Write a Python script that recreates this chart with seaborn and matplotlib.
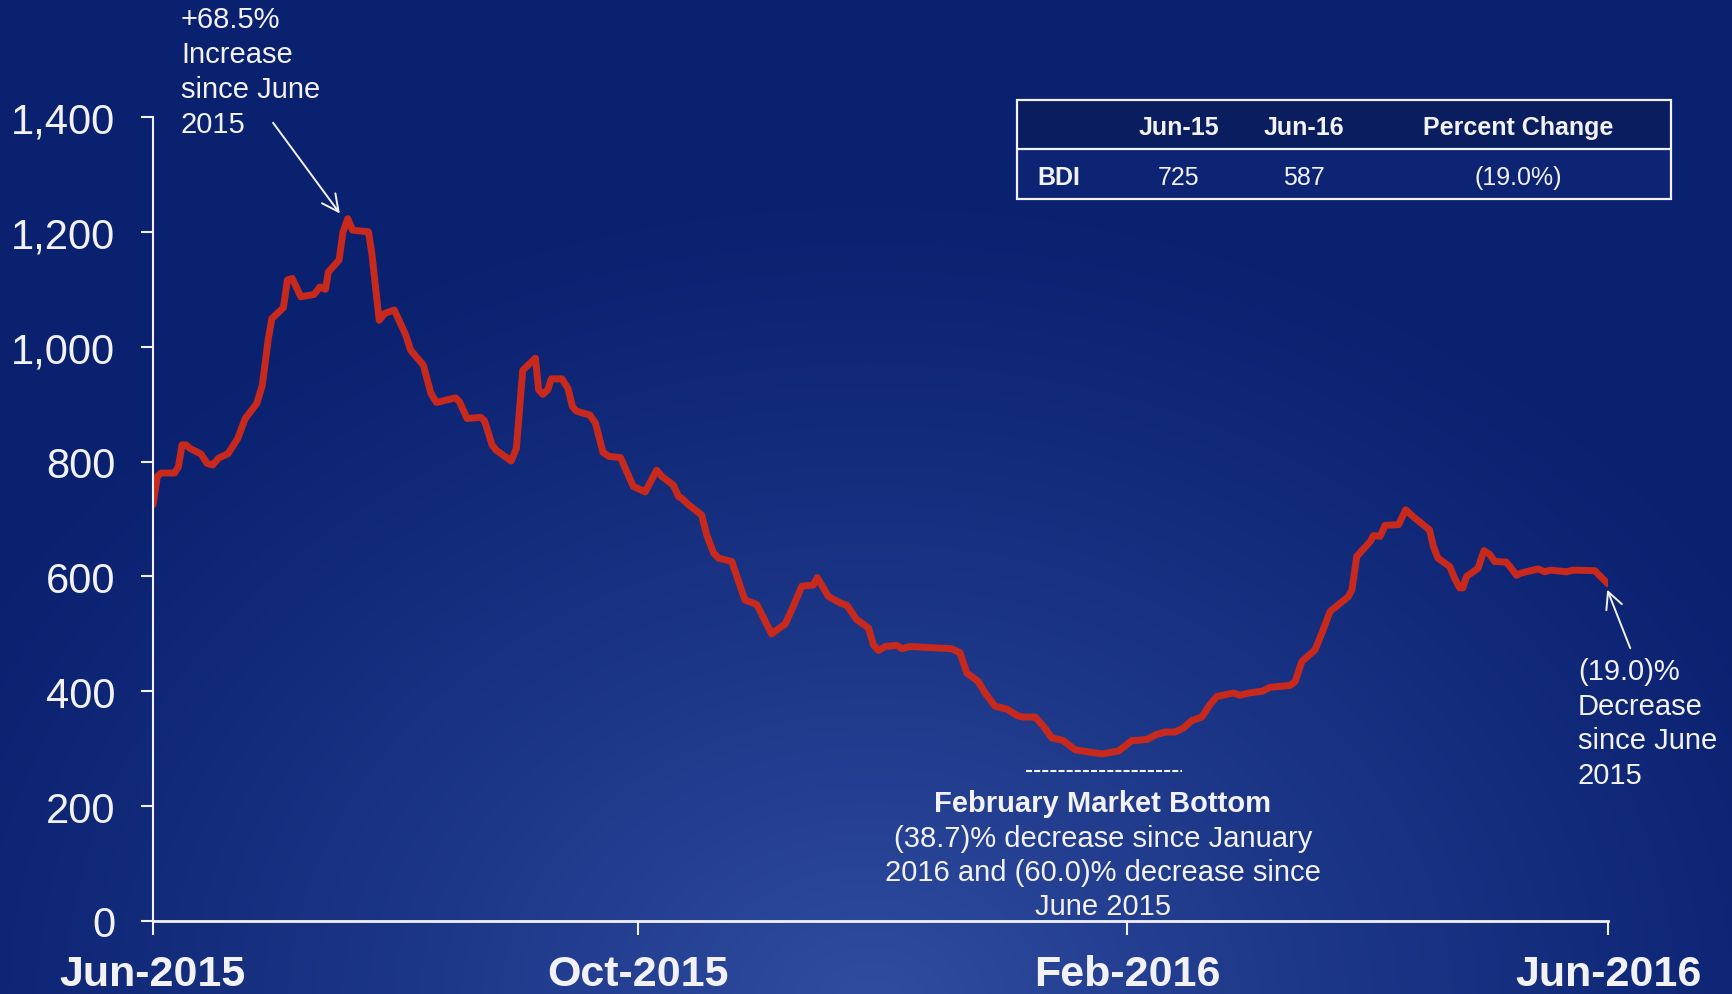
import numpy as np
import pandas as pd
import matplotlib.pyplot as plt
import matplotlib.dates as mdates
from matplotlib.patches import Rectangle
from matplotlib.lines import Line2D
import seaborn as sns

# ------------------------------------------------------------
#  Data: Baltic Dry Index, Jun-2015 .. Jun-2016
# ------------------------------------------------------------
start_date = '2015-06-01'

# days since 1 June 2015
days = [0, 1.1, 2.0, 5.4, 6.4, 7.3, 8.3, 9.3, 12.1, 13.6, 15.0, 16.5, 18.9, 21.3,
        23.2, 26.1, 27.5, 29.0, 29.9, 32.8, 33.8, 35.0, 37.2, 40.5, 42.0, 43.4,
        44.1, 46.8, 47.8, 49.0, 50.2, 54.2, 55.0, 56.9, 58.3, 60.7, 62.2, 63.6,
        64.8, 68.0, 69.9, 71.3, 76.1, 77.1, 79.0, 82.4, 83.4, 85.3, 86.3, 90.1,
        91.4, 93.0, 96.2, 97.0, 98.1, 99.3, 100.2, 102.9, 104.4, 105.5, 106.5,
        109.9, 111.3, 113.2, 114.7, 117.6, 120.8, 123.8, 126.7, 128.0, 130.9,
        132.2, 133.0, 134.7, 138.0, 139.3, 141.0, 142.2, 145.6, 148.9, 151.9,
        155.6, 159.0, 160.7, 163.2, 166.1, 167.1, 168.2, 169.9, 172.8, 174.5,
        177.0, 180.0, 181.2, 182.5, 184.2, 187.1, 188.4, 190.4, 200.9, 203.0,
        204.7, 207.6, 209.3, 211.8, 214.8, 217.3, 218.9, 221.9, 224.0, 226.1,
        229.0, 232.0, 235.7, 238.7, 242.9, 246.2, 250.0, 252.5, 254.6, 257.1,
        259.2, 261.3, 263.8, 265.9, 267.6, 271.8, 273.5, 275.6, 279.0, 281.0,
        286.0, 287.3, 289.0, 292.3, 294.0, 296.1, 300.7, 301.6, 302.8, 306.2,
        307.0, 308.7, 309.9, 313.3, 315.1, 317.0, 321.1, 322.1, 323.2, 326.2,
        327.4, 328.7, 329.5, 330.4, 333.3, 334.8, 336.3, 337.5, 340.4, 341.7,
        343.0, 344.2, 348.4, 350.1, 351.6, 355.6, 357.2, 362.7, 364.4, 366.0]

bdi = [725, 774, 780, 780, 791, 829, 829, 823, 813, 797, 794, 806, 814, 840,
       875, 901, 933, 1014, 1049, 1068, 1116, 1119, 1087, 1091, 1104, 1100,
       1130, 1151, 1200, 1223, 1203, 1200, 1165, 1046, 1058, 1064, 1041, 1020,
       994, 968, 919, 903, 911, 904, 875, 877, 871, 829, 820, 801,
       823, 959, 980, 925, 917, 925, 944, 944, 927, 896, 888,
       881, 867, 816, 809, 807, 757, 747, 785, 774, 759,
       739, 736, 725, 707, 672, 641, 632, 626, 559, 551,
       500, 517, 542, 583, 585, 598, 585, 565, 554, 550,
       525, 510, 481, 471, 478, 480, 474, 478, 474, 467,
       432, 417, 397, 374, 369, 358, 355, 355, 339, 319,
       314, 298, 294, 291, 296, 314, 316, 325, 329, 329,
       336, 349, 355, 377, 391, 397, 393, 397, 400, 407,
       410, 417, 452, 472, 501, 539, 565, 577, 635, 661,
       671, 670, 689, 690, 716, 704, 681, 652, 632, 617,
       597, 580, 580, 600, 614, 645, 638, 626, 625, 614,
       602, 606, 613, 608, 611, 608, 611, 610, 598, 587]

tick_dates = ['2015-06-01', '2015-10-01', '2016-02-01', '2016-06-01']
y_ticks = [0, 200, 400, 600, 800, 1000, 1200, 1400]

table_header = ['Jun-15', 'Jun-16', 'Percent Change']
table_row = ['BDI', '725', '587', '(19.0%)']

note_peak = ['+68.5%', 'Increase', 'since June', '2015']
note_end = ['(19.0)%', 'Decrease', 'since June', '2015']
note_bottom_title = 'February Market Bottom'
note_bottom = ['(38.7)% decrease since January', '2016 and (60.0)% decrease since', 'June 2015']

# ------------------------------------------------------------
#  Style
# ------------------------------------------------------------
sns.set_theme(style='white')
plt.rcParams['font.family'] = ['Liberation Sans', 'DejaVu Sans']

W, H = 1733, 995
WHITE = '#f2f2f6'
RED = '#c8291d'

df = pd.DataFrame({
    'date': pd.Timestamp(start_date) + pd.to_timedelta(days, unit='D'),
    'bdi': bdi,
})

fig = plt.figure(figsize=(W / 100, H / 100), dpi=100)


def fx(x):
    return x / W


def fy(y):
    return 1 - y / H


# radial blue background
bg = fig.add_axes([0, 0, 1, 1], zorder=-10)
yy, xx = np.mgrid[0:H, 0:W]
r = np.sqrt(((xx - 870) / 1000.0) ** 2 + ((yy - 1010) / 800.0) ** 2)
t = np.clip(1 - r, 0, 1) ** 1.2
dark = np.array([11, 34, 113]) / 255
light = np.array([48, 77, 160]) / 255
img = dark + (light - dark) * t[..., None]
bg.imshow(img, aspect='auto', extent=(0, 1, 0, 1))
bg.axis('off')

# ------------------------------------------------------------
#  Main chart
# ------------------------------------------------------------
ax = fig.add_axes([fx(153), fy(922), fx(1608) - fx(153), fy(118) - fy(922)])
ax.patch.set_alpha(0)

sns.lineplot(data=df, x='date', y='bdi', ax=ax, color=RED, linewidth=5,
             estimator=None, legend=False)

x0 = pd.Timestamp(start_date)
ax.set_xlim(pd.Timestamp(tick_dates[0]), pd.Timestamp(tick_dates[-1]))
ax.set_ylim(0, 1400)
ax.set_xticks(pd.to_datetime(tick_dates))
ax.xaxis.set_major_formatter(mdates.DateFormatter('%b-%Y'))
ax.set_yticks(y_ticks)
ax.set_yticklabels([f'{v:,}' for v in y_ticks])
ax.set_xlabel('')
ax.set_ylabel('')

for side in ['top', 'right']:
    ax.spines[side].set_visible(False)
ax.spines['left'].set_color(WHITE)
ax.spines['left'].set_linewidth(1.5)
ax.spines['bottom'].set_color(WHITE)
ax.spines['bottom'].set_linewidth(2)

ax.tick_params(axis='y', left=True, colors=WHITE, length=9, width=1.5,
               direction='out', labelsize=30, pad=18)
ax.tick_params(axis='x', bottom=True, colors=WHITE, length=10, width=1.5,
               direction='out', labelsize=31, pad=14)
for lab in ax.get_xticklabels():
    lab.set_fontweight('bold')


def dnum(d):
    return mdates.date2num(x0 + pd.Timedelta(days=d))


arrow = dict(arrowstyle='->', color=WHITE, lw=1.4, mutation_scale=30,
             shrinkA=0, shrinkB=0)
ax.annotate('', xy=(dnum(47.0), 1232), xytext=(dnum(30.2), 1390),
            arrowprops=arrow, annotation_clip=False)
ax.annotate('', xy=(dnum(365.8), 577), xytext=(dnum(371.6), 475),
            arrowprops=arrow, annotation_clip=False)


def text_lines(lines, x, y0, pitch, ha='left', **kw):
    for i, s in enumerate(lines):
        fig.text(fx(x), fy(y0 + i * pitch), s, ha=ha, va='baseline',
                 color=WHITE, fontsize=21, **kw)


text_lines(note_peak, 181, 28, 35)
text_lines(note_end, 1578, 680, 34.7)
fig.text(fx(1103), fy(811.7), note_bottom_title, ha='center', va='baseline',
         color=WHITE, fontsize=21, fontweight='bold')
text_lines(note_bottom, 1103, 846.7, 34.2, ha='center')

fig.add_artist(Line2D([fx(1026), fx(1182)], [fy(772), fy(772)],
                      transform=fig.transFigure, color=WHITE, lw=1.5,
                      linestyle=(0, (2.9, 1.0))))

# ------------------------------------------------------------
#  Summary table (top right)
# ------------------------------------------------------------
tl, tr, tt, tm, tb = 1017, 1671, 100.5, 150, 200
fig.add_artist(Rectangle((fx(tl), fy(tm)), fx(tr) - fx(tl), fy(tt) - fy(tm),
                         transform=fig.transFigure, facecolor='#0a1d5e',
                         edgecolor='none'))
fig.add_artist(Rectangle((fx(tl), fy(tb)), fx(tr) - fx(tl), fy(tm) - fy(tb),
                         transform=fig.transFigure, facecolor='#0c2473',
                         edgecolor='none'))
fig.add_artist(Rectangle((fx(tl), fy(tb)), fx(tr) - fx(tl), fy(tt) - fy(tb),
                         transform=fig.transFigure, facecolor='none',
                         edgecolor=WHITE, lw=1.6))
fig.add_artist(Line2D([fx(tl), fx(tr)], [fy(tm), fy(tm)],
                      transform=fig.transFigure, color=WHITE, lw=1.6))

col_x = [1179, 1304, 1518]
for cx, s in zip(col_x, table_header):
    fig.text(fx(cx), fy(135), s, ha='center', va='baseline', color=WHITE,
             fontsize=18, fontweight='bold')
fig.text(fx(1037), fy(185), table_row[0], ha='left', va='baseline',
         color=WHITE, fontsize=18, fontweight='bold')
for cx, s in zip(col_x, table_row[1:]):
    fig.text(fx(cx), fy(185), s, ha='center', va='baseline', color=WHITE,
             fontsize=18)

plt.savefig('out.png', dpi=100)
